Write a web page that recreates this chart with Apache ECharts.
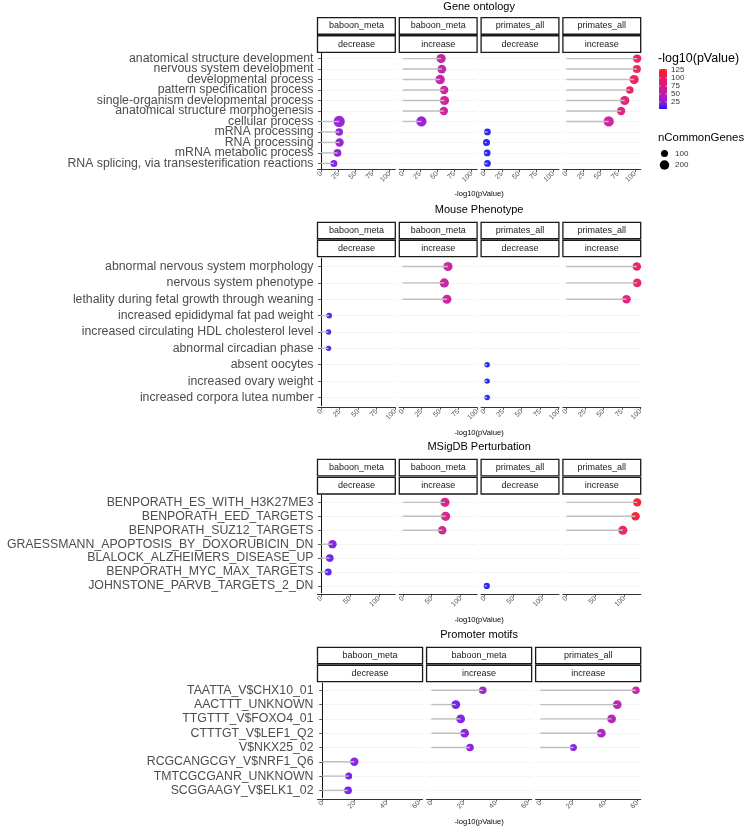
<!DOCTYPE html>
<html><head><meta charset="utf-8">
<script src="https://cdn.jsdelivr.net/npm/echarts@6/dist/echarts.min.js"></script>
<style>html,body{margin:0;padding:0;background:#fff}#chart{width:746px;height:826px}</style>
</head><body><div id="chart"></div>
<script>
const FONT = "'Liberation Sans', Arial, Helvetica, sans-serif";

// ---------- Gene ontology ----------
const goCategories = ['anatomical structure development','nervous system development','developmental process','pattern specification process','single-organism developmental process','anatomical structure morphogenesis','cellular process','mRNA processing','RNA processing','mRNA metabolic process','RNA splicing, via transesterification reactions'];
const goBaboonDecrease      = [null,null,null,null,null,null,26.5,26.5,27.0,24.0,18.7];
const goBaboonDecreaseGenes = [null,null,null,null,null,null,290,123,153,123,100];
const goBaboonIncrease      = [55.9,56.9,54.4,60.3,60.8,59.8,27.1,null,null,null,null];
const goBaboonIncreaseGenes = [186,167,201,153,186,153,239,null,null,null,null];
const goPrimatesDecrease      = [null,null,null,null,null,null,null,4.1,2.7,3.7,4.1];
const goPrimatesDecreaseGenes = [null,null,null,null,null,null,null,90,100,90,90];
const goPrimatesIncrease      = [103.2,102.7,98.8,92.4,85.1,79.8,61.7,null,null,null,null];
const goPrimatesIncreaseGenes = [153,140,186,123,186,153,239,null,null,null,null];
const goTicks = [0,25,50,75,100];

// ---------- Mouse Phenotype ----------
const mouseCategories = ['abnormal nervous system morphology','nervous system phenotype','lethality during fetal growth through weaning','increased epididymal fat pad weight','increased circulating HDL cholesterol level','abnormal circadian phase','absent oocytes','increased ovary weight','increased corpora lutea number'];
const mouseBaboonDecrease      = [null,null,null,11.0,10.1,10.1,null,null,null];
const mouseBaboonDecreaseGenes = [null,null,null,58,55,55,null,null,null];
const mouseBaboonIncrease      = [61.0,56.0,59.6,null,null,null,null,null,null];
const mouseBaboonIncreaseGenes = [186,186,180,null,null,null,null,null,null];
const mousePrimatesDecrease      = [null,null,null,null,null,null,3.4,3.4,3.4];
const mousePrimatesDecreaseGenes = [null,null,null,null,null,null,55,55,55];
const mousePrimatesIncrease      = [95.1,95.6,81.2,null,null,null,null,null,null];
const mousePrimatesIncreaseGenes = [160,160,155,null,null,null,null,null,null];
const mouseTicks = [0,25,50,75,100];

// ---------- MSigDB Perturbation ----------
const msigCategories = ['BENPORATH_ES_WITH_H3K27ME3','BENPORATH_EED_TARGETS','BENPORATH_SUZ12_TARGETS','GRAESSMANN_APOPTOSIS_BY_DOXORUBICIN_DN','BLALOCK_ALZHEIMERS_DISEASE_UP','BENPORATH_MYC_MAX_TARGETS','JOHNSTONE_PARVB_TARGETS_2_DN'];
const msigBaboonDecrease      = [null,null,null,19.8,15.2,12.3,null];
const msigBaboonDecreaseGenes = [null,null,null,153,123,100,null];
const msigBaboonIncrease      = [73.0,74.1,68.3,null,null,null,null];
const msigBaboonIncreaseGenes = [186,186,153,null,null,null,null];
const msigPrimatesDecrease      = [null,null,null,null,null,null,3.7];
const msigPrimatesDecreaseGenes = [null,null,null,null,null,null,76];
const msigPrimatesIncrease      = [122.5,119.6,97.7,null,null,null,null];
const msigPrimatesIncreaseGenes = [153,160,186,null,null,null,null];
const msigTicks = [0,50,100];

// ---------- Promoter motifs ----------
const promCategories = ['TAATTA_V$CHX10_01','AACTTT_UNKNOWN','TTGTTT_V$FOXO4_01','CTTTGT_V$LEF1_Q2','V$NKX25_02','RCGCANGCGY_V$NRF1_Q6','TMTCGCGANR_UNKNOWN','SCGGAAGY_V$ELK1_02'];
const promBaboonDecrease      = [null,null,null,null,null,19.9,16.4,16.0];
const promBaboonDecreaseGenes = [null,null,null,null,null,153,100,123];
const promBaboonIncrease      = [31.9,15.2,18.2,20.7,24.0,null,null,null];
const promBaboonIncreaseGenes = [123,167,167,167,123,null,null,null];
const promPrimatesIncrease      = [59.3,47.7,44.2,37.8,20.5,null,null,null];
const promPrimatesIncreaseGenes = [123,167,167,167,100,null,null,null];
const promTicks = [0,20,40,60];

// ---------- legends ----------
const colorbarTicks = [25,50,75,100,125];
const colorMin = 3, colorMax = 128;
const sizeBreaks = [100,200];
const gradientColors = ['#0000FF','#7300E0','#9A00C3','#B500A5','#CA0088','#DA006C','#E8004F','#F40031','#FF0000'];

function sizeFor(n){ return 1.0 + 0.6*Math.sqrt(n); }

const strips4 = [['baboon_meta','decrease'],['baboon_meta','increase'],['primates_all','decrease'],['primates_all','increase']];
const strips3 = [['baboon_meta','decrease'],['baboon_meta','increase'],['primates_all','increase']];

const sections = [
  {title:'Gene ontology', cats:goCategories, ticks:goTicks, strips:strips4,
   panels:[[goBaboonDecrease,goBaboonDecreaseGenes],[goBaboonIncrease,goBaboonIncreaseGenes],[goPrimatesDecrease,goPrimatesDecreaseGenes],[goPrimatesIncrease,goPrimatesIncreaseGenes]],
   L:{titleY:7, s1:17.7, plotTop:52.3, axisY:169.7, axisTitleY:194}},
  {title:'Mouse Phenotype', cats:mouseCategories, ticks:mouseTicks, strips:strips4,
   panels:[[mouseBaboonDecrease,mouseBaboonDecreaseGenes],[mouseBaboonIncrease,mouseBaboonIncreaseGenes],[mousePrimatesDecrease,mousePrimatesDecreaseGenes],[mousePrimatesIncrease,mousePrimatesIncreaseGenes]],
   L:{titleY:210, s1:222.3, plotTop:256.7, axisY:407.3, axisTitleY:432.7}},
  {title:'MSigDB Perturbation', cats:msigCategories, ticks:msigTicks, strips:strips4,
   panels:[[msigBaboonDecrease,msigBaboonDecreaseGenes],[msigBaboonIncrease,msigBaboonIncreaseGenes],[msigPrimatesDecrease,msigPrimatesDecreaseGenes],[msigPrimatesIncrease,msigPrimatesIncreaseGenes]],
   L:{titleY:447.3, s1:459.3, plotTop:494, axisY:594.3, axisTitleY:620}},
  {title:'Promoter motifs', cats:promCategories, ticks:promTicks, strips:strips3,
   panels:[[promBaboonDecrease,promBaboonDecreaseGenes],[promBaboonIncrease,promBaboonIncreaseGenes],[promPrimatesIncrease,promPrimatesIncreaseGenes]],
   L:{titleY:635, s1:647.3, plotTop:681.7, axisY:799, axisTitleY:821.5}}
];

const PLOT_LEFT = 317.5, PLOT_RIGHT = 640.7, GAP = 4;
const CENTER_X = (PLOT_LEFT + PLOT_RIGHT)/2;
const grids=[], xAxes=[], yAxes=[], series=[], graphics=[], scatterIdx=[];

sections.forEach(sec => {
  const L = sec.L, n = sec.cats.length;
  const sp = (L.axisY - L.plotTop)/(n - 1 + 1.2);
  const pad = 0.1*sp;
  const np = sec.panels.length;
  const pw = (PLOT_RIGHT - PLOT_LEFT - GAP*(np-1))/np;
  let R = 0;
  sec.panels.forEach(p => p[0].forEach(v => { if (v != null && v > R) R = v; }));
  const sh = (L.plotTop - L.s1 - 1.5)/2;

  graphics.push({type:'text', x:CENTER_X, y:L.titleY, style:{text:sec.title, font:`11px ${FONT}`, fill:'#000', align:'center', verticalAlign:'middle'}});
  graphics.push({type:'text', x:CENTER_X, y:L.axisTitleY, style:{text:'-log10(pValue)', font:`7.6px ${FONT}`, fill:'#000', align:'center', verticalAlign:'middle'}});

  sec.panels.forEach((p, k) => {
    const left = PLOT_LEFT + k*(pw + GAP);
    const gi = grids.length;
    grids.push({left:left, top:L.plotTop + pad, width:pw, height:n*sp, containLabel:false, outerBoundsMode:'none'});
    xAxes.push({type:'value', gridIndex:gi, min:-0.05*R, max:1.05*R, offset:pad,
      axisLine:{show:true, onZero:false, lineStyle:{color:'#333', width:1.2}},
      axisTick:{show:true, length:2.5, customValues:sec.ticks, lineStyle:{color:'#333', width:0.8}},
      axisLabel:{customValues:sec.ticks, rotate:45, fontSize:7, color:'#555', margin:3, fontFamily:FONT, showMinLabel:true, showMaxLabel:true},
      splitLine:{show:false}});
    yAxes.push({type:'category', gridIndex:gi, data:sec.cats, inverse:true,
      axisLine:{show:k===0, lineStyle:{color:'#111', width:1}},
      axisTick:{show:k===0, alignWithLabel:true, interval:0, length:3, lineStyle:{color:'#333', width:0.8}},
      axisLabel:{show:k===0, interval:0, fontSize:12.3, color:'#4d4d4d', margin:4, fontFamily:FONT},
      splitLine:{show:true, alignWithLabel:true, interval:0, lineStyle:{color:'#F1F1F1', width:0.8}}});
    series.push({type:'bar', xAxisIndex:gi, yAxisIndex:gi, data:p[0].map(v => v == null ? '-' : v),
      barWidth:1.4, itemStyle:{color:'#BFBFBF'}, z:3, silent:true, animation:false});
    const sd = [];
    p[0].forEach((v, i) => { if (v != null) sd.push([v, i, p[1][i]]); });
    scatterIdx.push(series.length);
    series.push({type:'scatter', xAxisIndex:gi, yAxisIndex:gi, data:sd, symbolSize:d => sizeFor(d[2]),
      itemStyle:{opacity:0.85}, z:2, silent:true, animation:false});

    // strips
    const lab = sec.strips[k];
    [0,1].forEach(r => {
      const y0 = L.s1 + r*(sh + 1.5);
      graphics.push({type:'rect', shape:{x:left, y:y0, width:pw, height:sh}, style:{fill:'#fff', stroke:'#1a1a1a', lineWidth:1.3}});
      graphics.push({type:'text', x:left + pw/2, y:y0 + sh/2, style:{text:lab[r], font:`9px ${FONT}`, fill:'#1a1a1a', align:'center', verticalAlign:'middle'}});
    });
  });
});

// colour legend
const CB = {x:659, y:69, w:8, h:40};
graphics.push({type:'text', x:658, y:59, style:{text:'-log10(pValue)', font:`12.5px ${FONT}`, fill:'#000', align:'left', verticalAlign:'middle'}});
graphics.push({type:'rect', shape:{x:CB.x, y:CB.y, width:CB.w, height:CB.h},
  style:{fill:new echarts.graphic.LinearGradient(0,1,0,0, gradientColors.map((c,i)=>({offset:i/(gradientColors.length-1), color:c}))), opacity:0.9}});
colorbarTicks.forEach(t => {
  const y = CB.y + CB.h - (t - colorMin)/(colorMax - colorMin)*CB.h;
  graphics.push({type:'line', shape:{x1:CB.x, y1:y, x2:CB.x+1.6, y2:y}, style:{stroke:'#fff', lineWidth:0.6}});
  graphics.push({type:'line', shape:{x1:CB.x+CB.w-1.6, y1:y, x2:CB.x+CB.w, y2:y}, style:{stroke:'#fff', lineWidth:0.6}});
  graphics.push({type:'text', x:671, y:y, style:{text:String(t), font:`8px ${FONT}`, fill:'#333', align:'left', verticalAlign:'middle'}});
});
// size legend
graphics.push({type:'text', x:658, y:138, style:{text:'nCommonGenes', font:`11.4px ${FONT}`, fill:'#000', align:'left', verticalAlign:'middle'}});
sizeBreaks.forEach((b, i) => {
  const cy = 153.5 + i*11.5;
  graphics.push({type:'circle', shape:{cx:664.5, cy:cy, r:sizeFor(b)/2}, style:{fill:'#000'}});
  graphics.push({type:'text', x:675, y:cy, style:{text:String(b), font:`8px ${FONT}`, fill:'#333', align:'left', verticalAlign:'middle'}});
});

const chart = echarts.init(document.getElementById('chart'), null, {renderer:'canvas'});
chart.setOption({
  animation:false,
  backgroundColor:'#fff',
  textStyle:{fontFamily:FONT},
  grid:grids, xAxis:xAxes, yAxis:yAxes, series:series,
  visualMap:[{type:'continuous', show:false, min:colorMin, max:colorMax, dimension:0, seriesIndex:scatterIdx, inRange:{color:gradientColors}}],
  graphic:graphics
});
</script></body></html>
